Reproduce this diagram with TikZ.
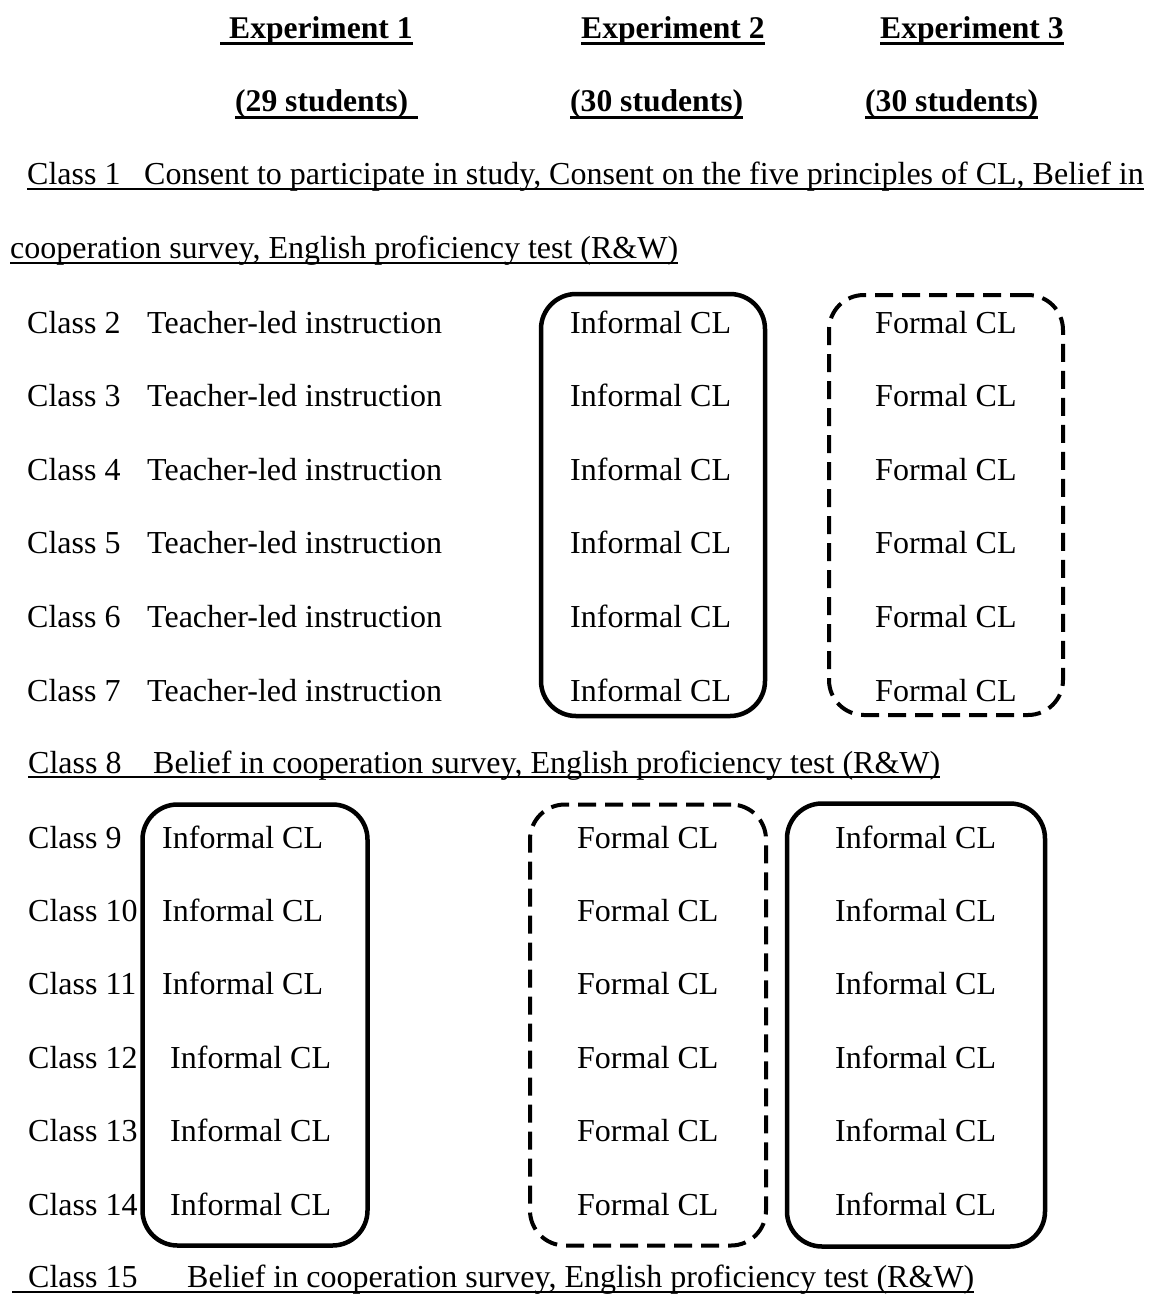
\documentclass[tikz,border=0pt]{standalone}
\usepackage{fontspec}
\setmainfont{Liberation Serif}
\begin{document}
\begin{tikzpicture}[x=1pt,y=-1pt,
  txt/.style={anchor=base west, inner sep=0pt, font=\fontsize{32}{36}\selectfont},
  hdr/.style={anchor=base west, inner sep=0pt, font=\fontsize{31.6}{36}\selectfont\bfseries},
  solidbox/.style={draw, line width=4.5pt, rounded corners=35pt, inner sep=0pt},
  dashbox/.style={draw, line width=4pt, rounded corners=35pt, dash pattern=on 18pt off 9pt, inner sep=0pt},
  ul/.style={line width=2.2pt},
  ulb/.style={line width=3pt}]
\useasboundingbox (0,0) rectangle (1149,1294);

% headers
\node[hdr] (e1) at (229,38) {Experiment 1};
\node[hdr] (e2) at (581,38) {Experiment 2};
\node[hdr] (e3) at (880,38) {Experiment 3};
\node[hdr] (s1) at (235,111) {(29 students)};
\node[hdr] (s2) at (570,111) {(30 students)};
\node[hdr] (s3) at (865,111) {(30 students)};
\draw[ulb] ([xshift=-9pt,yshift=-5pt]e1.base west) -- ([yshift=-5pt]e1.base east);
\draw[ulb] ([yshift=-5pt]e2.base west) -- ([yshift=-5pt]e2.base east);
\draw[ulb] ([yshift=-5pt]e3.base west) -- ([yshift=-5pt]e3.base east);
\draw[ulb] ([yshift=-6pt]s1.base west) -- ([xshift=10pt,yshift=-6pt]s1.base east);
\draw[ulb] ([yshift=-6pt]s2.base west) -- ([yshift=-6pt]s2.base east);
\draw[ulb] ([yshift=-6pt]s3.base west) -- ([yshift=-6pt]s3.base east);

% class 1
\node[txt] (c1) at (27,184) {Class 1};
\node[txt] (l1) at (144,184) {Consent to participate in study, Consent on the five principles of CL, Belief in};
\node[txt] (l1b) at (10,258) {cooperation survey, English proficiency test (R\&W)};
\draw[ul] ([yshift=-5pt]c1.base west) -- ([yshift=-5pt]l1.base east);
\draw[ul] ([yshift=-5pt]l1b.base west) -- ([yshift=-5pt]l1b.base east);

% classes 2-7
\foreach \k [count=\j from 0] in {2,...,7} {
  \pgfmathsetmacro\yy{333+73.6*\j}
  \node[txt] (c\k) at (27,\yy) {Class \k};
  \node[txt] (t\k) at (147,\yy) {Teacher-led instruction};
  \node[txt] (i\k) at (570,\yy) {Informal CL};
  \node[txt] (f\k) at (875,\yy) {Formal CL};
}
\node[solidbox, minimum width=224pt, minimum height=422pt] (b1) at (653,505) {};
\node[dashbox, minimum width=234pt, minimum height=420pt] (b2) at (946,505) {};

% class 8
\node[txt] (c8) at (28,773) {Class 8};
\node[txt] (l8) at (153,773) {Belief in cooperation survey, English proficiency test (R\&W)};
\draw[ul] ([yshift=-4pt]c8.base west) -- ([yshift=-4pt]l8.base east);

% classes 9-14
\foreach \k [count=\j from 0] in {9,...,14} {
  \pgfmathsetmacro\yy{848+73.4*\j}
  \node[txt] (c\k) at (28,\yy) {Class \k};
  \node[txt] (f\k) at (577,\yy) {Formal CL};
  \node[txt] (g\k) at (835,\yy) {Informal CL};
}
\foreach \k [count=\j from 0] in {9,10,11} {
  \pgfmathsetmacro\yy{848+73.4*\j}
  \node[txt] (h\k) at (162,\yy) {Informal CL};
}
\foreach \k [count=\j from 3] in {12,13,14} {
  \pgfmathsetmacro\yy{848+73.4*\j}
  \node[txt] (h\k) at (170,\yy) {Informal CL};
}
\node[solidbox, minimum width=225pt, minimum height=441pt] (b3) at (255,1025) {};
\node[dashbox, minimum width=236pt, minimum height=441pt] (b4) at (648,1025) {};
\node[solidbox, minimum width=258pt, minimum height=443pt] (b5) at (916,1025) {};

% class 15
\node[txt] (c15) at (28,1287) {Class 15};
\node[txt] (l15) at (187,1287) {Belief in cooperation survey, English proficiency test (R\&W)};
\draw[ul] ([xshift=-16pt,yshift=-5pt]c15.base west) -- ([yshift=-5pt]l15.base east);
\end{tikzpicture}
\end{document}
